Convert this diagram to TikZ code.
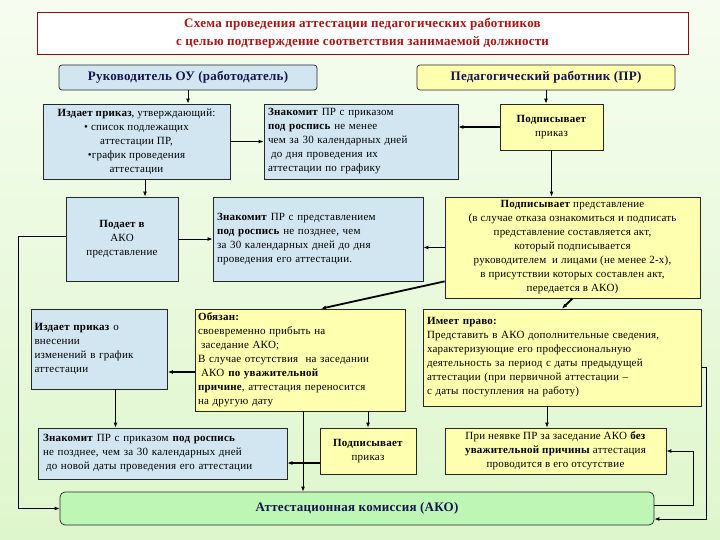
\documentclass[tikz,border=0pt]{standalone}
\usepackage{fontspec}
\setmainfont{Liberation Serif}[LetterSpace=2]
\usetikzlibrary{calc,arrows.meta}
\definecolor{bgtop}{RGB}{246,253,240}
\definecolor{bgbot}{RGB}{222,246,204}
\definecolor{boxblue}{RGB}{210,230,241}
\definecolor{boxyellow}{RGB}{255,255,176}
\definecolor{boxgreen}{RGB}{190,246,182}
\definecolor{titlered}{RGB}{170,20,20}
\definecolor{navy}{RGB}{20,20,80}
\def\ind{\hspace*{3pt}}
\tikzset{
  box/.style={draw=black!85, line width=0.7pt, inner xsep=3pt, inner ysep=1pt,
    font=\fontsize{11}{14}\selectfont},
  bluebox/.style={box, fill=boxblue},
  yellowbox/.style={box, fill=boxyellow},
  headbox/.style={box, rounded corners=3pt, text=navy,
    font=\fontsize{13}{15}\selectfont\bfseries},
  arr/.style={line width=1pt, -{Latex[length=5pt,width=4pt]}},
  thickarr/.style={line width=1.8pt, -{Latex[length=5pt,width=4pt]}}
}

\begin{document}
\begin{tikzpicture}[x=1pt, y=-1pt]
		%%%%% START %%%%%
		
		\shade[top color=bgtop, bottom color=bgbot] (0, 0) rectangle (720, 540);
		\useasboundingbox (0, 0) rectangle (720, 540);
		
		% title
		\node[draw=titlered!80!black, line width=0.7pt, fill=white, minimum width=651, minimum height=42, align=center, text=titlered, font=\fontsize{13}{18}\selectfont\bfseries] (title) at (362.5, 33) {Схема проведения аттестации педагогических работников\\с целью подтверждение соответствия занимаемой должности};
		
		% heads
		\node[headbox, fill=boxblue, minimum width=258, minimum height=25] (boss) at (188, 77.5) {Руководитель ОУ (работодатель)};
		\node[headbox, fill=boxyellow, minimum width=258, minimum height=25] (pr) at (546, 77.5) {Педагогический работник (ПР)};
		
		% first row
		\node[bluebox, minimum width=187, minimum height=75, align=center] (b1) at (136.5, 141.5) {\textbf{Издает приказ}, утверждающий:\\• список подлежащих\\аттестации ПР,\\•график проведения\\аттестации};
		\node[bluebox, minimum width=194, minimum height=75, text width=186, align=left] (b2) at (361, 141.5) {\textbf{Знакомит} ПР с приказом\\\textbf{под роспись} не менее\\чем за 30 календарных дней\\\ind до дня проведения их\\аттестации по графику};
		\node[yellowbox, minimum width=103, minimum height=46, align=center] (s1) at (551.5, 127) {\textbf{Подписывает}\\приказ};
		
		% second row
		\node[bluebox, minimum width=112, minimum height=84, align=center] (b3) at (122, 239) {\textbf{Подает в}\\АКО\\представление};
		\node[bluebox, minimum width=210, minimum height=84, text width=202, align=left] (b4) at (318, 239) {\textbf{Знакомит} ПР с представлением\\\textbf{под роспись} не позднее, чем\\за 30 календарных дней до дня\\проведения его аттестации.};
		\node[yellowbox, minimum width=255, minimum height=101, align=center] (y1) at (572.5, 247.5) {\textbf{Подписывает} представление\\(в случае отказа ознакомиться и подписать\\представление составляется акт,\\который подписывается\\руководителем~ и лицами (не менее 2-х),\\в присутствии которых составлен акт,\\передается в АКО)};
		
		% third row
		\node[bluebox, minimum width=136, minimum height=80, text width=130, align=left] (b5) at (99.5, 349) {\textbf{Издает приказ} о\\внесении\\изменений в график\\аттестации};
		\node[yellowbox, minimum width=210, minimum height=102, text width=204, align=left] (y2) at (300, 360) {\textbf{Обязан:}\\своевременно прибыть на\\\ind заседание АКО;\\В случае отсутствия~ на заседании\\\ind АКО \textbf{по уважительной}\\\textbf{причине}, аттестация переносится\\на другую дату};
		\node[yellowbox, minimum width=278, minimum height=97, text width=270, align=left] (y3) at (562, 357.5) {\textbf{Имеет право:}\\Представить в АКО дополнительные сведения,\\характеризующие его профессиональную\\деятельность за период с даты предыдущей\\аттестации (при первичной аттестации –\\с даты поступления на работу)};
		
		% fourth row
		\node[bluebox, minimum width=249, minimum height=51, text width=239, align=left] (b6) at (162.5, 453.5) {\textbf{Знакомит} ПР с приказом \textbf{под роспись}\\не позднее, чем за 30 календарных дней\\\ind до новой даты проведения его аттестации};
		\node[yellowbox, minimum width=96, minimum height=46, align=center] (s2) at (368, 451) {\textbf{Подписывает}\\приказ};
		\node[yellowbox, minimum width=221, minimum height=46, align=center] (y4) at (555.5, 451) {При неявке ПР за заседание АКО \textbf{без}\\\textbf{уважительной причины} аттестация\\проводится в его отсутствие};
		
		% commission
		\node[headbox, fill=boxgreen, rounded corners=5pt, minimum width=594, minimum height=33] (ako) at (357, 508.5) {Аттестационная комиссия (АКО)};
		
		% connectors
		\draw[arr] (boss.south) -- (boss.south |- b1.north);
		\draw[arr] (pr.south) -- (pr.south |- s1.north);
		\draw[arr] (b1.east) -- (b2.west);
		\draw[thickarr] (s1.west) -- (s1.west -| b2.east);
		\draw[arr] (s1.south) -- (s1.south |- y1.north);
		\draw[arr] ([xshift=8.5pt]b1.south) -- ([xshift=8.5pt]b1.south |- b3.north);
		\draw[arr] (b3.east) -- (b4.west);
		\draw[arr] (y1.west) -- (y1.west -| b4.east);
		\draw[arr] ([yshift=3pt]b3.west) -- ++(-47, 0) |- (ako.west);
		\draw[thickarr] ([yshift=17pt]y1.south west) -- ([xshift=21pt]y2.north);
		\draw[thickarr] (y1.south) -- (y3.north);
		\draw[thickarr] ([yshift=-12pt]y2.west) -- ([yshift=-12pt]y2.west -| b5.east);
		\draw[thickarr] ([xshift=16pt]b5.south) -- ([xshift=16pt]b5.south |- b6.north);
		\draw[arr] (s2.north |- y2.south) -- (s2.north);
		\draw[thickarr] ([yshift=-12pt]s2.west) -- ([yshift=-12pt]s2.west -| b6.east);
		\draw[arr] ([xshift=3pt]y2.south) -- ([xshift=3pt]y2.south |- ako.north);
		\draw[arr] ([xshift=-15pt]y3.south) -- ([xshift=-15pt]y3.south |- y4.north);
		\draw[arr] ([yshift=3.5pt]ako.east) -- ++(39, 0) |- (y4.east);
		\draw[arr] ([yshift=-9.5pt]y3.east) -- ++(5, 0) |- ([yshift=-10.5pt]ako.east);
		
		%%%%% END %%%%%
\end{tikzpicture}
\end{document}
